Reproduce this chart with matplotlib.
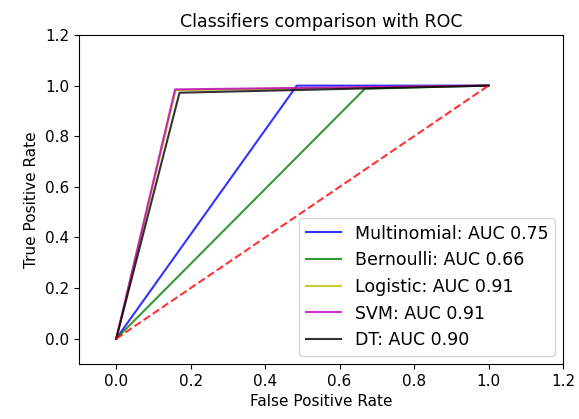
import matplotlib
matplotlib.use('Agg')
import matplotlib.pyplot as plt

# ROC points (fpr, tpr): (0,0) -> knee -> (1,1)
names = ['Multinomial', 'Bernoulli', 'Logistic', 'SVM', 'DT']
aucs = [0.75, 0.66, 0.91, 0.91, 0.90]
fprs = [[0.0, 0.485, 1.0], [0.0, 0.668, 1.0], [0.0, 0.16, 1.0], [0.0, 0.158, 1.0], [0.0, 0.17, 1.0]]
tprs = [[0.0, 1.0, 1.0], [0.0, 0.988, 1.0], [0.0, 0.982, 1.0], [0.0, 0.985, 1.0], [0.0, 0.972, 1.0]]
colors = ['b', 'g', 'y', 'm', 'k']

plt.rcParams['font.size'] = 11
fig = plt.figure(figsize=(5.79, 4.19), dpi=100)
ax = fig.add_axes([79/579, 1-364/419, (563-79)/579, (364-35)/419])

for name, auc, fpr, tpr, c in zip(names, aucs, fprs, tprs, colors):
    ax.plot(fpr, tpr, c, alpha=0.8, lw=1.5, label=f'{name}: AUC {auc:.2f}')
ax.plot([0, 1], [0, 1], 'r--', alpha=0.8, lw=1.5)

ax.set_xlim(-0.1, 1.2)
ax.set_ylim(-0.1, 1.2)
ax.set_title('Classifiers comparison with ROC', fontsize=12.5)
ax.set_xlabel('False Positive Rate')
ax.set_ylabel('True Positive Rate')
ax.legend(loc='lower right', fontsize=12.5, borderaxespad=0.45)
fig.savefig('out.png', dpi=100)
